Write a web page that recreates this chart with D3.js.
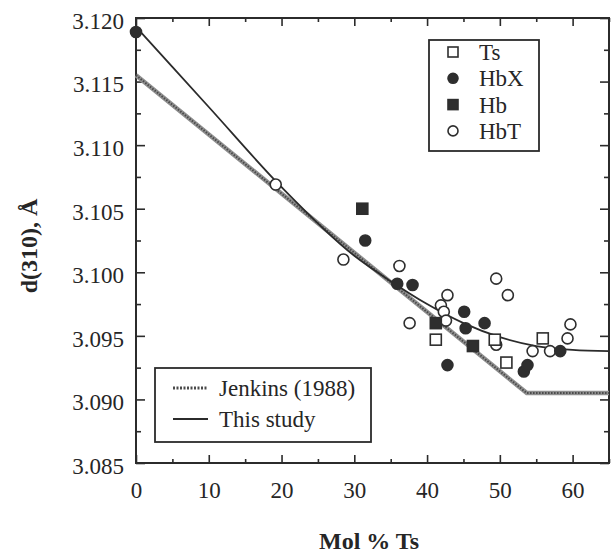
<!DOCTYPE html>
<html>
<head>
<meta charset="utf-8">
<script src="https://cdn.jsdelivr.net/npm/d3@7"></script>
<style>
  body { margin: 0; background: #fff; }
  svg text { font-family: "Liberation Serif", "Times New Roman", serif; fill: #262626; }
</style>
</head>
<body>
<div id="chart"></div>
<script>
// point series: [mol % Ts, d(310)]
const tsPoints = [[41.2, 3.0947], [49.3, 3.0947], [50.9, 3.0929], [55.9, 3.0948]];
const hbxPoints = [[0, 3.1189], [31.5, 3.1025], [35.9, 3.0991], [38.0, 3.0990], [45.1, 3.0969],
                   [45.3, 3.0956], [47.9, 3.0960], [42.8, 3.0927], [53.3, 3.0922], [53.8, 3.0927],
                   [58.3, 3.0938]];
const hbPoints = [[31.1, 3.1050], [41.2, 3.0960], [46.3, 3.0942]];
const hbtPoints = [[19.2, 3.1069], [28.5, 3.1010], [36.2, 3.1005], [37.6, 3.0960], [42.8, 3.0982],
                   [41.9, 3.0974], [42.3, 3.0969], [42.6, 3.0962], [49.5, 3.0995], [51.1, 3.0982],
                   [49.5, 3.0943], [54.5, 3.0938], [56.9, 3.0938], [59.7, 3.0959], [59.3, 3.0948]];

// fitted lines
const jenkinsLine = [[0, 3.1155], [53.7, 3.0905], [65, 3.0905]];
const studyLine = [[0, 3.1193], [10, 3.1130], [20, 3.1067], [30, 3.1013], [35, 3.0993], [40, 3.0975],
                   [45, 3.0960], [50, 3.0949], [55, 3.0942], [60, 3.0939], [65, 3.0938]];

const xMajor = [0, 10, 20, 30, 40, 50, 60];
const xMinor = [5, 15, 25, 35, 45, 55, 65];
const yMajor = [3.085, 3.090, 3.095, 3.100, 3.105, 3.110, 3.115, 3.120];
const yMinor = [3.0875, 3.0925, 3.0975, 3.1025, 3.1075, 3.1125, 3.1175];

const w = 611;
const h = 554;
const pLeft = 136, pRight = 609, pTop = 18, pBottom = 463;
const ink = '#2b2b2b';

const svg = d3.select('#chart')
              .append('svg')
              .attr('width', w)
              .attr('height', h);

const xScale = d3.scaleLinear().domain([0, 65]).range([pLeft, pRight]);
const yScale = d3.scaleLinear().domain([3.085, 3.120]).range([pBottom, pTop]);

const styleAxis = (g) => {
  g.select('.domain').remove();
  g.selectAll('.tick line').attr('stroke', ink).attr('stroke-width', 1.6);
  g.selectAll('.tick text').attr('font-size', 23).attr('fill', '#262626')
   .style('font-family', '"Liberation Serif", "Times New Roman", serif');
};

// bottom axis
svg.append('g')
   .attr('transform', 'translate(0,' + pBottom + ')')
   .call(d3.axisBottom(xScale).tickValues(xMajor).tickSize(-8).tickSizeOuter(0).tickPadding(19).tickFormat(d3.format('d')))
   .call(styleAxis);
svg.append('g')
   .attr('transform', 'translate(0,' + pBottom + ')')
   .call(d3.axisBottom(xScale).tickValues(xMinor).tickSize(-4).tickSizeOuter(0).tickFormat(''))
   .call(styleAxis);

// top axis
svg.append('g')
   .attr('transform', 'translate(0,' + pTop + ')')
   .call(d3.axisTop(xScale).tickValues(xMajor).tickSize(-8).tickSizeOuter(0).tickFormat(''))
   .call(styleAxis);
svg.append('g')
   .attr('transform', 'translate(0,' + pTop + ')')
   .call(d3.axisTop(xScale).tickValues(xMinor).tickSize(-4).tickSizeOuter(0).tickFormat(''))
   .call(styleAxis);

// left axis
svg.append('g')
   .attr('transform', 'translate(' + pLeft + ',0)')
   .call(d3.axisLeft(yScale).tickValues(yMajor).tickSize(-9).tickSizeOuter(0).tickPadding(12).tickFormat(d3.format('.3f')))
   .call(styleAxis)
   .selectAll('.tick text').attr('dy', '0.45em');
svg.append('g')
   .attr('transform', 'translate(' + pLeft + ',0)')
   .call(d3.axisLeft(yScale).tickValues(yMinor).tickSize(-5).tickSizeOuter(0).tickFormat(''))
   .call(styleAxis);

// right axis
svg.append('g')
   .attr('transform', 'translate(' + pRight + ',0)')
   .call(d3.axisRight(yScale).tickValues(yMajor).tickSize(-9).tickSizeOuter(0).tickFormat(''))
   .call(styleAxis);
svg.append('g')
   .attr('transform', 'translate(' + pRight + ',0)')
   .call(d3.axisRight(yScale).tickValues(yMinor).tickSize(-5).tickSizeOuter(0).tickFormat(''))
   .call(styleAxis);

// frame
svg.append('rect')
   .attr('x', pLeft)
   .attr('y', pTop)
   .attr('width', pRight - pLeft)
   .attr('height', pBottom - pTop)
   .attr('fill', 'none')
   .attr('stroke', ink)
   .attr('stroke-width', 2);

const line = d3.line().x(d => xScale(d[0])).y(d => yScale(d[1]));

// Jenkins (1988): grey band with dark dashes
svg.append('path')
   .attr('d', line(jenkinsLine))
   .attr('fill', 'none')
   .attr('stroke', '#8f8f8f')
   .attr('stroke-width', 4.5);
svg.append('path')
   .attr('d', line(jenkinsLine))
   .attr('fill', 'none')
   .attr('stroke', '#4a4a4a')
   .attr('stroke-width', 2)
   .attr('stroke-dasharray', '1.5,1.5');

// This study
svg.append('path')
   .attr('d', line.curve(d3.curveMonotoneX)(studyLine))
   .attr('fill', 'none')
   .attr('stroke', ink)
   .attr('stroke-width', 1.8);

// markers
const r = 5.5;
const drawCircles = (data, filled) => {
  svg.append('g')
     .selectAll('circle')
     .data(data)
     .enter()
     .append('circle')
     .attr('cx', d => xScale(d[0]))
     .attr('cy', d => yScale(d[1]))
     .attr('r', r)
     .attr('fill', filled ? '#2e2e2e' : '#fff')
     .attr('stroke', '#2e2e2e')
     .attr('stroke-width', 1.6);
};
const drawSquares = (data, filled) => {
  svg.append('g')
     .selectAll('rect')
     .data(data)
     .enter()
     .append('rect')
     .attr('x', d => xScale(d[0]) - r)
     .attr('y', d => yScale(d[1]) - r)
     .attr('width', 2 * r)
     .attr('height', 2 * r)
     .attr('fill', filled ? '#2e2e2e' : '#fff')
     .attr('stroke', '#2e2e2e')
     .attr('stroke-width', 1.6);
};
drawCircles(hbtPoints, false);
drawSquares(tsPoints, false);
drawCircles(hbxPoints, true);
drawSquares(hbPoints, true);

// marker legend
const legend1 = svg.append('g');
legend1.append('rect')
       .attr('x', 429).attr('y', 40).attr('width', 110).attr('height', 111)
       .attr('fill', '#fff').attr('stroke', ink).attr('stroke-width', 1.8);
const markerKeys = [
  { name: 'Ts', shape: 'square', filled: false },
  { name: 'HbX', shape: 'circle', filled: true },
  { name: 'Hb', shape: 'square', filled: true },
  { name: 'HbT', shape: 'circle', filled: false }
];
markerKeys.forEach((k, i) => {
  const cy = 52 + i * 26.3;
  if (k.shape === 'circle') {
    legend1.append('circle').attr('cx', 453).attr('cy', cy).attr('r', 5)
           .attr('fill', k.filled ? '#2e2e2e' : '#fff').attr('stroke', '#2e2e2e').attr('stroke-width', 1.6);
  } else {
    legend1.append('rect').attr('x', 448).attr('y', cy - 5).attr('width', 10).attr('height', 10)
           .attr('fill', k.filled ? '#2e2e2e' : '#fff').attr('stroke', '#2e2e2e').attr('stroke-width', 1.6);
  }
  legend1.append('text').attr('x', 479).attr('y', cy + 8).attr('font-size', 23).text(k.name);
});

// line legend
const legend2 = svg.append('g');
legend2.append('rect')
       .attr('x', 155).attr('y', 368).attr('width', 216).attr('height', 74)
       .attr('fill', '#fff').attr('stroke', ink).attr('stroke-width', 1.8);
legend2.append('line').attr('x1', 173).attr('x2', 208).attr('y1', 388).attr('y2', 388)
       .attr('stroke', '#4a4a4a').attr('stroke-width', 3).attr('stroke-dasharray', '2,1.5');
legend2.append('line').attr('x1', 173).attr('x2', 208).attr('y1', 419).attr('y2', 419)
       .attr('stroke', ink).attr('stroke-width', 1.8);
legend2.append('text').attr('x', 219).attr('y', 396).attr('font-size', 23).text('Jenkins (1988)');
legend2.append('text').attr('x', 219).attr('y', 427).attr('font-size', 23).text('This study');

// axis titles
svg.append('text')
   .attr('x', 369)
   .attr('y', 549)
   .attr('text-anchor', 'middle')
   .attr('font-size', 24)
   .attr('font-weight', 'bold')
   .text('Mol % Ts');

svg.append('text')
   .attr('transform', 'translate(37,246) rotate(-90)')
   .attr('text-anchor', 'middle')
   .attr('font-size', 24)
   .attr('font-weight', 'bold')
   .text('d(310), Å');
</script>
</body>
</html>
